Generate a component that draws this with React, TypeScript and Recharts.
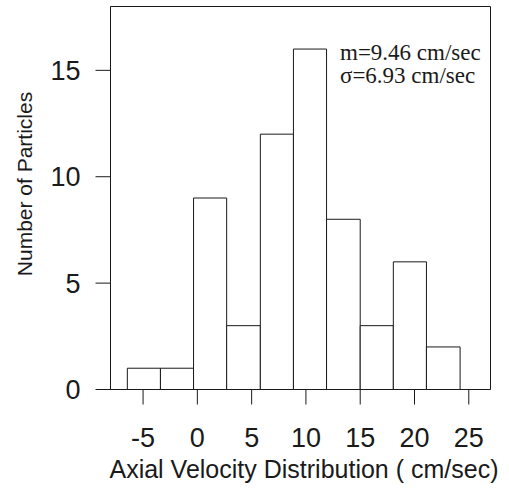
import { ComposedChart, ReferenceArea, Scatter, XAxis, YAxis, Label } from "recharts";

// histogram bin edges (cm/sec) and counts
const binEdges = [-6.45, -3.4, -0.35, 2.7, 5.8, 8.85, 11.9, 15.0, 18.05, 21.1, 24.2];
const particleCounts = [1, 1, 9, 3, 12, 16, 8, 3, 6, 2];
const xTicks = [-5, 0, 5, 10, 15, 20, 25];
const yTicks = [0, 5, 10, 15];
const xDomain = [-8, 27];
const yDomain = [0, 18];
const statLines = ["m=9.46 cm/sec", "σ=6.93 cm/sec"];

const SANS = '"Liberation Sans", Arial, sans-serif';
const SERIF = '"Liberation Serif", "Times New Roman", serif';
const INK = "#1a1a1a";

const bins = particleCounts.map((count, i) => ({
  x1: binEdges[i],
  x2: binEdges[i + 1],
  mid: (binEdges[i] + binEdges[i + 1]) / 2,
  count,
}));

const XTick = ({ x, y, payload }: any) => (
  <text x={x} y={y} dy={42} textAnchor="middle" fontSize={27} fontFamily={SANS} fill={INK}>
    {payload.value}
  </text>
);

const YTick = ({ x, y, payload }: any) => (
  <text x={x} y={y} dx={-15} dy={9.5} textAnchor="end" fontSize={27} fontFamily={SANS} fill={INK}>
    {payload.value}
  </text>
);

const App = () => {
  return (
    <div style={{ position: "absolute", left: 0, top: 0, width: 509, height: 497 }}>
      <ComposedChart
        width={509}
        height={497}
        margin={{ top: 6.5, right: 18.5, bottom: 0, left: 0.5 }}
      >
        <XAxis
          dataKey="mid"
          type="number"
          domain={xDomain}
          ticks={xTicks}
          allowDataOverflow
          height={107.5}
          tickSize={15}
          tickMargin={0}
          stroke={INK}
          tick={<XTick />}
        >
          <Label
            content={({ viewBox }: any) => (
              <text
                x={viewBox.x + viewBox.width / 2 + 3.5}
                y={viewBox.y + 88}
                textAnchor="middle"
                fontSize={25}
                fontFamily={SANS}
                fill={INK}
              >
                Axial Velocity Distribution ( cm/sec)
              </text>
            )}
          />
        </XAxis>
        <YAxis
          dataKey="count"
          type="number"
          domain={yDomain}
          ticks={yTicks}
          allowDataOverflow
          width={110}
          tickSize={15}
          tickMargin={0}
          stroke={INK}
          tick={<YTick />}
        >
          <Label
            content={({ viewBox }: any) => {
              const cx = 24;
              const cy = viewBox.y + viewBox.height / 2 - 14;
              return (
                <text
                  x={cx}
                  y={cy}
                  transform={`rotate(-90 ${cx} ${cy})`}
                  textAnchor="middle"
                  dominantBaseline="central"
                  fontSize={21}
                  fontFamily={SANS}
                  fill={INK}
                >
                  Number of Particles
                </text>
              );
            }}
          />
        </YAxis>
        {/* plot frame */}
        <ReferenceArea
          x1={xDomain[0]}
          x2={xDomain[1]}
          y1={yDomain[0]}
          y2={yDomain[1]}
          fill="none"
          stroke={INK}
          strokeWidth={1}
          ifOverflow="visible"
        />
        {bins.map((b) => (
          <ReferenceArea
            key={b.x1}
            x1={b.x1}
            x2={b.x2}
            y1={0}
            y2={b.count}
            fill="#fff"
            fillOpacity={1}
            stroke={INK}
            strokeWidth={1}
            ifOverflow="visible"
          />
        ))}
        {/* carries the bin data so the axes are bound; points are not drawn */}
        <Scatter data={bins} dataKey="count" isAnimationActive={false} shape={() => <g />} />
      </ComposedChart>
      <svg
        width={509}
        height={497}
        style={{ position: "absolute", left: 0, top: 0, pointerEvents: "none" }}
      >
        {statLines.map((line, i) => (
          <text
            key={line}
            x={340}
            y={60 + i * 23}
            fontSize={23}
            fontFamily={SERIF}
            fill={INK}
          >
            {line}
          </text>
        ))}
      </svg>
    </div>
  );
};

export default App;
